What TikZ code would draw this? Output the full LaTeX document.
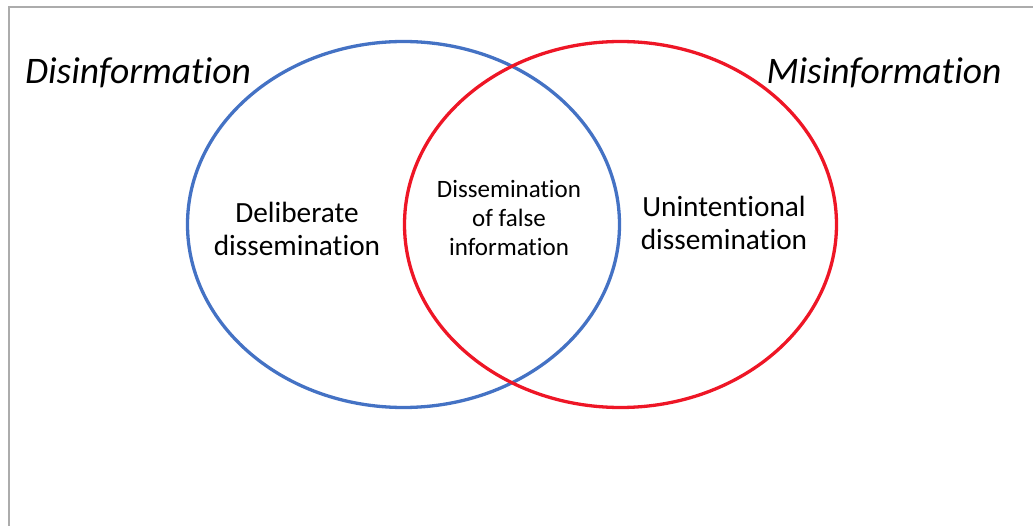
\documentclass[tikz,border=0pt]{standalone}
\usepackage{fontspec}
\setmainfont{Carlito}[Ligatures={NoCommon}]
\usetikzlibrary{shapes.geometric}
\begin{document}
\begin{tikzpicture}[x=1pt,y=-1pt,
  setshape/.style={ellipse,inner sep=0pt,minimum width=432pt,minimum height=366pt,line width=3.3pt},
  blueset/.style={setshape,draw={rgb,255:red,68;green,114;blue,196}},
  redset/.style={setshape,draw={rgb,255:red,238;green,22;blue,38}},
  title/.style={font=\fontsize{37.5}{40}\selectfont\itshape,inner sep=0pt},
  lbl/.style={font=\fontsize{29.3}{33}\selectfont,align=center,inner sep=0pt},
  midlbl/.style={font=\fontsize{25}{29}\selectfont,align=center,inner sep=0pt}]
\useasboundingbox (0,0) rectangle (1033,526);
\draw[color={rgb,255:red,172;green,172;blue,172},line width=2pt] (8.5,526) -- (8.5,7) -- (1033,7);
\node[blueset] (dis) at (403.5,224.5) {};
\node[redset] (mis) at (620.5,224.5) {};
\node[title] (tdis) at (138,73) {Disinformation};
\node[title] (tmis) at (884,73) {Misinformation};
\node[lbl] (deli) at (297,229) {Deliberate\\dissemination};
\node[midlbl] (mid) at (509,218) {Dissemination\\of false\\information};
\node[lbl] (unin) at (724,223) {Unintentional\\dissemination};
\end{tikzpicture}
\end{document}
